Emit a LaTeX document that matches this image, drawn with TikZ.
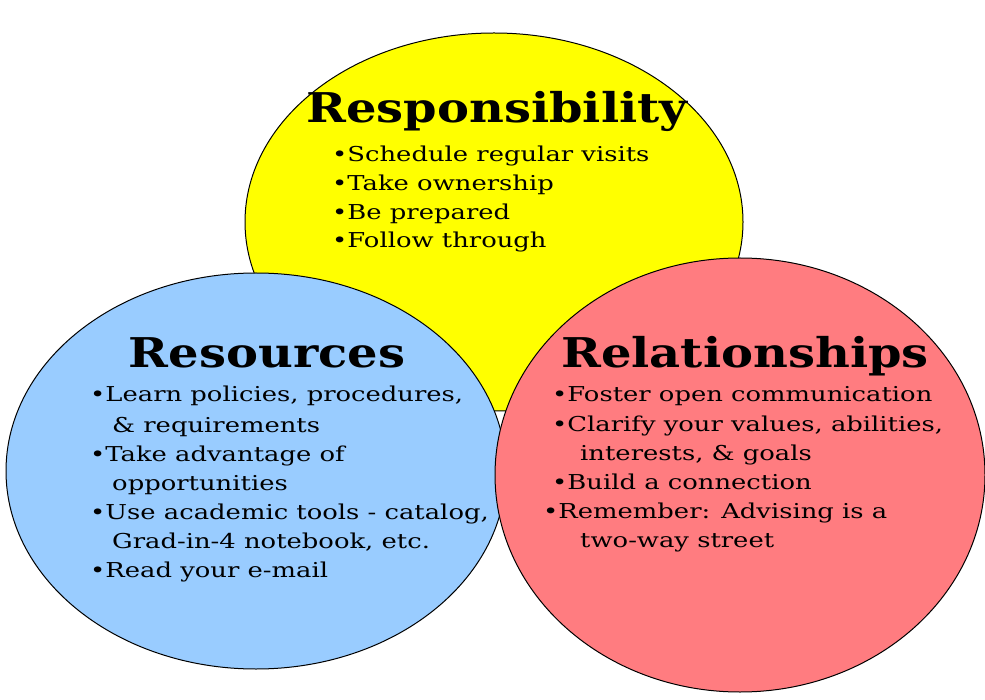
\documentclass[tikz,border=0pt]{standalone}
\usepackage{fontspec}
\setmainfont{DejaVu Serif}
\newfontfamily\bodyfont[FakeStretch=1.26]{DejaVu Serif}
\newfontfamily\titlefont[FakeStretch=1.17]{DejaVu Serif Bold}
\definecolor{yel}{HTML}{FFFF00}
\definecolor{blu}{HTML}{99CCFF}
\definecolor{rd}{HTML}{FF7C80}
\begin{document}
\begin{tikzpicture}[x=1pt,y=-1pt,
  circ/.style={draw=black, line width=1pt},
  ttl/.style={anchor=base, inner sep=0pt, font=\titlefont\fontsize{41}{41}\selectfont},
  itm/.style={anchor=base west, inner sep=0pt, font=\bodyfont\fontsize{20.5}{29}\selectfont}]
\useasboundingbox (0,0) rectangle (985,700);
\filldraw[circ, fill=yel] (494,222) ellipse [x radius=249, y radius=189];
\filldraw[circ, fill=blu] (256,471) ellipse [x radius=250, y radius=198];
\filldraw[circ, fill=rd] (740,475) ellipse [x radius=245, y radius=217];
% Responsibility
\node[ttl] (t1) at (497,123) {Responsibility};
\node[itm] (y1) at (332,162) {•Schedule regular visits};
\node[itm] (y2) at (332,191) {•Take ownership};
\node[itm] (y3) at (332,220) {•Be prepared};
\node[itm] (y4) at (332,248) {•Follow through};
% Resources
\node[ttl] (t2) at (267,368) {Resources};
\node[itm] (b1) at (90,402) {•Learn policies, procedures,};
\node[itm] (b2) at (112,432) {\& requirements};
\node[itm] (b3) at (90,461) {•Take advantage of};
\node[itm] (b4) at (112,490) {opportunities};
\node[itm] (b5) at (90,519) {•Use academic tools - catalog,};
\node[itm] (b6) at (112,548) {Grad-in-4 notebook, etc.};
\node[itm] (b7) at (90,577) {•Read your e-mail};
% Relationships
\node[ttl] (t3) at (745,367) {Relationships};
\node[itm] (r1) at (552,402) {•Foster open communication};
\node[itm] (r2) at (552,431) {•Clarify your values, abilities,};
\node[itm] (r3) at (580,460) {interests, \& goals};
\node[itm] (r4) at (552,489) {•Build a connection};
\node[itm] (r5) at (543,518) {•Remember: Advising is a};
\node[itm] (r6) at (580,547) {two-way street};
\end{tikzpicture}
\end{document}
